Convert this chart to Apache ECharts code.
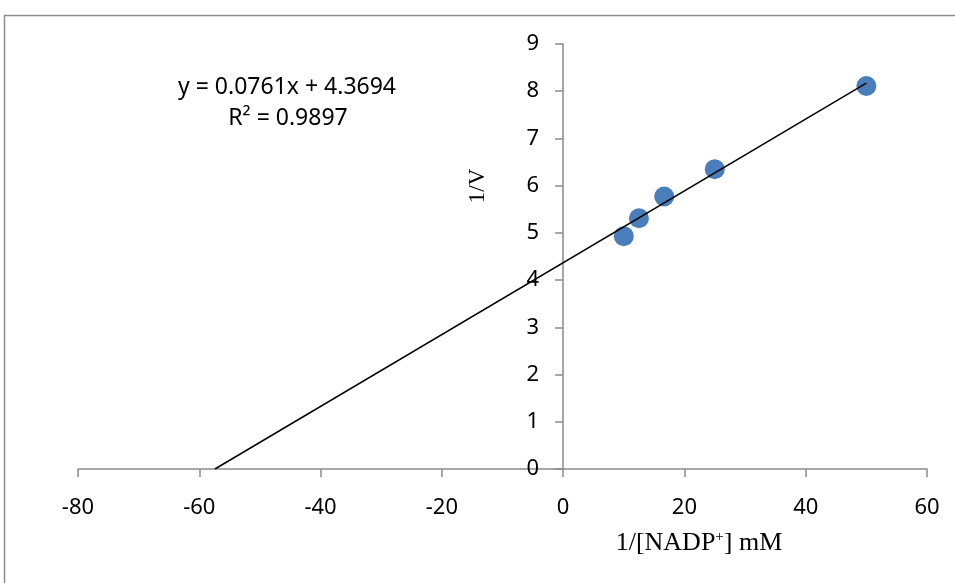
<!DOCTYPE html>
<html>
<head>
<meta charset="utf-8">
<script src="https://cdn.jsdelivr.net/npm/echarts@6/dist/echarts.min.js"></script>
<style>
  html, body { margin: 0; padding: 0; background: #fff; }
  #chart { width: 955px; height: 583px; }
</style>
</head>
<body>
<div id="chart"></div>
<script>
// measured points (1/[NADP+], 1/V)
const xValues = [10, 12.5, 16.67, 25, 50];
const yValues = [4.93, 5.31, 5.77, 6.35, 8.11];

// linear trendline y = 0.0761x + 4.3694, drawn from y=0 to last point
const trendX = [-57.42, 50];
const trendY = [0, 8.17];

const xTicks = [-80, -60, -40, -20, 0, 20, 40, 60];
const yTicks = [0, 1, 2, 3, 4, 5, 6, 7, 8, 9];

const equationText = 'y = 0.0761x + 4.3694';
const r2Text = 'R² = 0.9897';

const chart = echarts.init(document.getElementById('chart'));

const axisGray = '#8a8a8a';
const labelFont = 'Noto Sans';

const gridLeft = 78, gridRight = 28;
// y axis crosses the x axis at x = 0: shift it right from the grid's left edge
const plotWidth = 955 - gridLeft - gridRight;
const yAxisShift = plotWidth * (0 - xTicks[0]) / (xTicks[xTicks.length - 1] - xTicks[0]);

let option = {
    animation: false,
    grid: { left: gridLeft, right: gridRight, top: 44, bottom: 114 },
    xAxis: {
        type: 'value',
        min: xTicks[0],
        max: xTicks[xTicks.length - 1],
        interval: 20,
        splitLine: { show: false },
        axisLine: { onZero: true, lineStyle: { color: axisGray, width: 1.5 } },
        axisTick: { show: true, inside: false, length: 8, lineStyle: { color: axisGray, width: 1.5 } },
        axisLabel: { margin: 28, fontSize: 22, fontFamily: labelFont, color: '#000' }
    },
    yAxis: {
        type: 'value',
        min: yTicks[0],
        max: yTicks[yTicks.length - 1],
        interval: 1,
        offset: -yAxisShift,
        splitLine: { show: false },
        axisLine: { onZero: false, lineStyle: { color: axisGray, width: 1.5 } },
        axisTick: { show: true, inside: false, length: 8, lineStyle: { color: axisGray, width: 1.5 } },
        axisLabel: { margin: 24, fontSize: 22, fontFamily: labelFont, color: '#000' }
    },
    graphic: [
        {
            type: 'rect',
            shape: { x: 4.5, y: 15.5, width: 1000, height: 1000 },
            style: { fill: 'none', stroke: '#8c8c8c', lineWidth: 1.5 },
            silent: true
        },
        {
            type: 'text',
            x: 287, y: 87,
            style: { text: equationText, font: '23px "Noto Sans"', fill: '#000', align: 'center', verticalAlign: 'middle' }
        },
        {
            type: 'text',
            x: 288, y: 118,
            style: { text: r2Text, font: '23px "Noto Sans"', fill: '#000', align: 'center', verticalAlign: 'middle' }
        },
        {
            type: 'text',
            x: 478, y: 186,
            rotation: Math.PI / 2,
            style: { text: '1/V', font: '23px "Liberation Serif"', fill: '#000', align: 'center', verticalAlign: 'middle' }
        },
        {
            type: 'text',
            x: 699, y: 543,
            style: {
                text: '1/[NADP{sup|+}] mM',
                font: '26px "Liberation Serif"',
                fill: '#000',
                align: 'center',
                verticalAlign: 'middle',
                rich: {
                    sup: { fontSize: 15, fontFamily: 'Liberation Serif', verticalAlign: 'top', padding: [0, 0, 11, 0] }
                }
            }
        }
    ],
    series: [
        {
            name: 'trend',
            type: 'line',
            data: trendX.map((x, i) => [x, trendY[i]]),
            symbol: 'none',
            lineStyle: { color: '#000', width: 1.5 },
            z: 3
        },
        {
            name: '1/V',
            type: 'scatter',
            data: xValues.map((x, i) => [x, yValues[i]]),
            symbolSize: 20,
            itemStyle: { color: '#4a7ebb', opacity: 1 },
            z: 2
        }
    ]
};

chart.setOption(option);
</script>
</body>
</html>
